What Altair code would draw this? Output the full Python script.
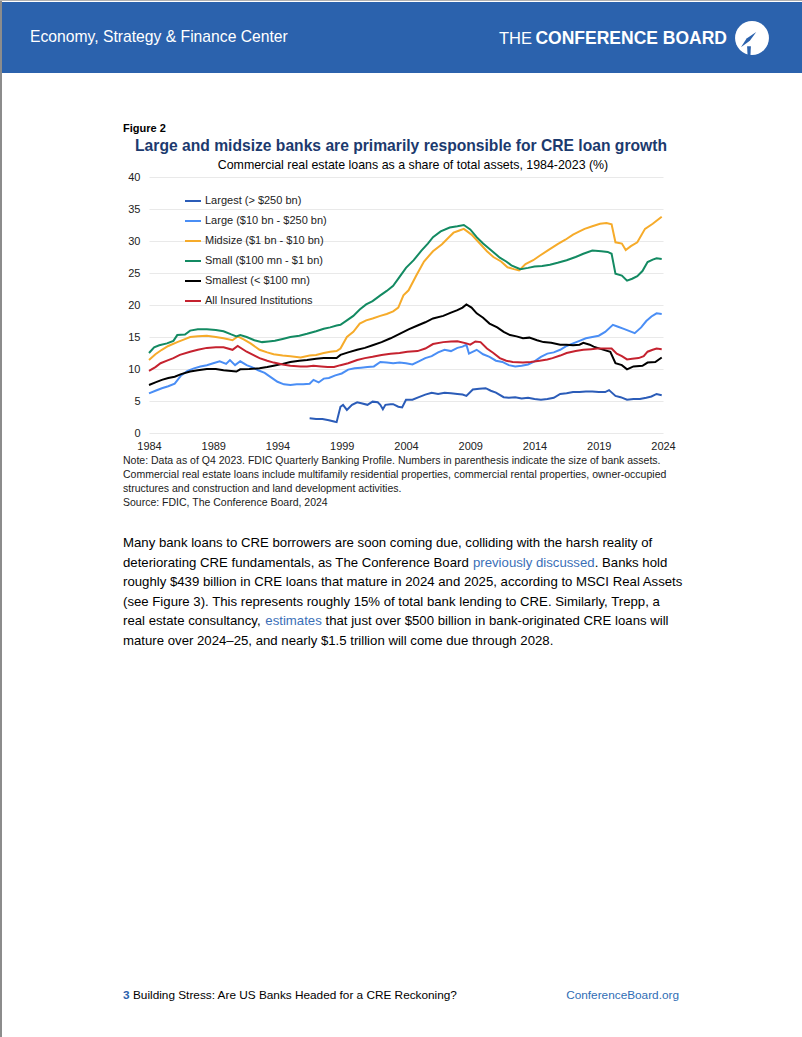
import altair as alt
import pandas as pd

# ---------------- data ----------------
series_names = [
    "Largest (> $250 bn)",
    "Large ($10 bn - $250 bn)",
    "Midsize ($1 bn - $10 bn)",
    "Small ($100 mn - $1 bn)",
    "Smallest (< $100 mn)",
    "All Insured Institutions",
]
series_colors = ["#2b5cb8", "#4a8ef5", "#f6ab2a", "#138a62", "#000000", "#c5222f"]

largest_years = [1996.5, 1997.0, 1997.5, 1998.0, 1998.4, 1998.6, 1998.9, 1999.1, 1999.4, 1999.8,
                 2000.2, 2000.6, 2001.0, 2001.4, 2001.8, 2002.0, 2002.2, 2002.4, 2002.8, 2003.0,
                 2003.4, 2003.7, 2004.0, 2004.5, 2005.0, 2005.5, 2006.0, 2006.5, 2007.0, 2007.5,
                 2008.0, 2008.4, 2008.7, 2009.2, 2009.7, 2010.2, 2010.6, 2011.0, 2011.6, 2012.0,
                 2012.5, 2013.0, 2013.5, 2014.0, 2014.5, 2015.0, 2015.5, 2016.0, 2016.5, 2017.0,
                 2017.5, 2018.0, 2018.5, 2019.0, 2019.5, 2019.8, 2020.3, 2020.7, 2021.2, 2021.7,
                 2022.2, 2022.7, 2023.1, 2023.5, 2023.9]
largest_vals = [2.3, 2.2, 2.2, 2.0, 1.8, 1.7, 4.1, 4.4, 3.6, 4.4,
                4.8, 4.6, 4.4, 4.9, 4.8, 4.4, 3.7, 4.4, 4.5, 4.5,
                4.1, 4.0, 5.2, 5.2, 5.6, 6.0, 6.3, 6.1, 6.3, 6.2,
                6.1, 6.0, 5.8, 6.8, 6.9, 7.0, 6.6, 6.3, 5.6, 5.5,
                5.6, 5.4, 5.5, 5.3, 5.2, 5.3, 5.5, 6.1, 6.2, 6.4,
                6.4, 6.5, 6.5, 6.4, 6.4, 6.7, 5.8, 5.6, 5.2, 5.3,
                5.3, 5.5, 5.7, 6.1, 5.9]

large_years = [1984.0, 1984.5, 1985.0, 1985.5, 1986.0, 1986.5, 1987.0, 1987.5, 1988.0, 1988.5,
               1989.0, 1989.5, 1990.0, 1990.3, 1990.7, 1991.1, 1991.6, 1992.0, 1992.5, 1993.0,
               1993.5, 1994.0, 1994.5, 1995.0, 1995.5, 1996.0, 1996.5, 1996.8, 1997.2, 1997.6,
               1998.0, 1998.5, 1999.0, 1999.5, 2000.0, 2000.5, 2001.0, 2001.5, 2002.0, 2002.5,
               2003.0, 2003.5, 2004.0, 2004.5, 2005.0, 2005.5, 2006.0, 2006.5, 2007.0, 2007.5,
               2008.0, 2008.4, 2008.7, 2008.9, 2009.5, 2010.0, 2010.5, 2011.0, 2011.5, 2012.0,
               2012.5, 2013.0, 2013.5, 2014.0, 2014.5, 2015.0, 2015.5, 2016.0, 2016.5, 2017.0,
               2017.5, 2018.0, 2018.5, 2019.0, 2019.5, 2020.1, 2020.5, 2020.9, 2021.3, 2021.8,
               2022.3, 2022.7, 2023.1, 2023.5, 2023.9]
large_vals = [6.2, 6.6, 7.0, 7.3, 7.7, 9.0, 9.7, 10.1, 10.4, 10.6,
              10.9, 11.2, 10.8, 11.4, 10.6, 11.2, 10.6, 10.3, 9.8, 9.4,
              8.7, 8.0, 7.6, 7.5, 7.6, 7.6, 7.7, 8.3, 7.9, 8.5,
              8.6, 9.0, 9.3, 9.9, 10.1, 10.2, 10.3, 10.4, 11.1, 11.0,
              10.9, 11.0, 10.9, 10.7, 11.2, 11.7, 12.0, 12.6, 13.0, 12.8,
              13.3, 13.5, 13.8, 12.4, 13.0, 12.3, 11.9, 11.3, 11.1, 10.6,
              10.4, 10.5, 10.7, 11.2, 11.9, 12.4, 12.6, 13.0, 13.6, 14.0,
              14.4, 14.8, 15.0, 15.2, 15.8, 16.9, 16.6, 16.3, 16.0, 15.6,
              16.5, 17.5, 18.2, 18.7, 18.6]

midsize_years = [1984.0, 1984.5, 1985.0, 1985.5, 1986.2, 1986.7, 1987.2, 1987.8, 1988.5, 1989.2,
                 1989.8, 1990.5, 1990.9, 1991.4, 1991.9, 1992.6, 1993.2, 1993.7, 1994.4, 1995.0,
                 1995.8, 1996.5, 1997.0, 1997.6, 1998.1, 1998.6, 1998.9, 1999.4, 1999.9, 2000.4,
                 2000.9, 2001.4, 2002.0, 2002.5, 2003.0, 2003.4, 2003.8, 2004.2, 2004.8, 2005.4,
                 2006.1, 2006.8, 2007.3, 2007.7, 2008.1, 2008.5, 2009.1, 2009.8, 2010.3, 2010.8,
                 2011.4, 2011.9, 2012.4, 2012.8, 2013.3, 2013.9, 2014.4, 2015.1, 2015.8, 2016.4,
                 2017.0, 2017.5, 2017.9, 2018.5, 2019.1, 2019.6, 2020.0, 2020.3, 2020.8, 2021.1,
                 2021.5, 2022.0, 2022.6, 2023.2, 2023.9]
midsize_vals = [11.4, 12.3, 13.0, 13.6, 14.2, 14.6, 15.0, 15.1, 15.2, 15.0,
                14.8, 14.5, 15.1, 14.6, 14.0, 13.0, 12.6, 12.3, 12.1, 12.0,
                11.8, 12.1, 12.2, 12.5, 12.7, 12.8, 13.2, 15.0, 15.8, 17.1,
                17.6, 17.9, 18.3, 18.6, 19.0, 19.6, 21.5, 22.3, 24.6, 26.8,
                28.4, 29.5, 30.5, 31.3, 31.6, 31.9, 31.0, 29.5, 28.4, 27.5,
                26.8, 25.9, 25.6, 25.4, 26.4, 27.0, 27.7, 28.6, 29.5, 30.2,
                31.0, 31.5, 31.9, 32.3, 32.7, 32.8, 32.6, 29.8, 29.6, 28.6,
                29.2, 29.8, 31.9, 32.7, 33.8]

small_years = [1984.0, 1984.4, 1984.8, 1985.4, 1985.9, 1986.2, 1986.8, 1987.2, 1987.8, 1988.5,
               1989.2, 1989.8, 1990.4, 1990.8, 1991.1, 1991.6, 1992.2, 1992.8, 1993.3, 1993.8,
               1994.4, 1995.0, 1995.7, 1996.3, 1997.0, 1997.6, 1998.1, 1998.6, 1998.9, 1999.4,
               1999.9, 2000.4, 2000.9, 2001.4, 2002.0, 2002.5, 2003.0, 2003.5, 2004.0, 2004.6,
               2005.2, 2005.7, 2006.1, 2006.7, 2007.4, 2008.0, 2008.5, 2009.0, 2009.5, 2010.0,
               2010.6, 2011.3, 2011.8, 2012.2, 2012.9, 2013.5, 2014.0, 2014.6, 2015.2, 2015.8,
               2016.5, 2017.2, 2017.8, 2018.5, 2019.2, 2019.7, 2020.0, 2020.3, 2020.8, 2021.2,
               2021.6, 2022.0, 2022.4, 2022.8, 2023.2, 2023.5, 2023.9]
small_vals = [12.5, 13.4, 13.7, 14.0, 14.4, 15.3, 15.4, 16.0, 16.2, 16.2,
              16.1, 15.9, 15.4, 15.1, 15.3, 15.0, 14.5, 14.2, 14.3, 14.4,
              14.7, 15.0, 15.2, 15.5, 15.9, 16.3, 16.5, 16.8, 16.9, 17.6,
              18.3, 19.3, 20.1, 20.6, 21.5, 22.2, 23.0, 24.4, 25.8, 27.0,
              28.5, 29.6, 30.6, 31.5, 32.1, 32.3, 32.5, 31.8, 30.6, 29.6,
              28.6, 27.4, 26.8, 26.2, 25.6, 25.8, 26.0, 26.1, 26.3, 26.6,
              27.0, 27.5, 28.0, 28.5, 28.4, 28.3, 28.0, 24.9, 24.6, 23.8,
              24.1, 24.5, 25.3, 26.7, 27.1, 27.3, 27.2]

smallest_years = [1984.0, 1984.5, 1985.0, 1985.5, 1986.0, 1986.5, 1987.2, 1987.8, 1988.5, 1989.2,
                  1989.8, 1990.4, 1990.8, 1991.1, 1991.8, 1992.6, 1993.2, 1993.7, 1994.4, 1995.0,
                  1995.7, 1996.3, 1997.0, 1997.6, 1998.1, 1998.6, 1998.9, 1999.5, 2000.2, 2000.8,
                  2001.4, 2002.1, 2002.8, 2003.5, 2004.2, 2004.9, 2005.5, 2006.1, 2006.9, 2007.5,
                  2008.0, 2008.4, 2008.7, 2009.1, 2009.5, 2010.0, 2010.5, 2011.1, 2011.6, 2012.1,
                  2012.6, 2013.1, 2013.6, 2014.2, 2014.7, 2015.3, 2016.0, 2016.5, 2017.0, 2017.5,
                  2017.8, 2018.3, 2018.6, 2019.2, 2019.9, 2020.3, 2020.8, 2021.2, 2021.7, 2022.4,
                  2022.8, 2023.4, 2023.9]
smallest_vals = [7.5, 7.9, 8.3, 8.6, 8.8, 9.2, 9.6, 9.8, 10.0, 10.0,
                 9.8, 9.7, 9.6, 9.95, 10.0, 10.1, 10.3, 10.5, 10.8, 11.1,
                 11.3, 11.4, 11.6, 11.7, 11.7, 11.7, 12.2, 12.6, 13.0, 13.3,
                 13.7, 14.2, 14.8, 15.5, 16.2, 16.8, 17.3, 17.9, 18.3, 18.8,
                 19.2, 19.6, 20.1, 19.6, 18.7, 18.0, 17.1, 16.5, 15.8, 15.3,
                 15.1, 14.8, 14.9, 14.5, 14.2, 14.1, 13.8, 13.8, 13.7, 13.8,
                 14.1, 13.8, 13.5, 13.1, 12.7, 10.9, 10.6, 9.95, 10.4, 10.5,
                 11.0, 11.1, 11.8]

all_years = [1984.0, 1984.5, 1984.9, 1985.4, 1985.9, 1986.4, 1987.2, 1987.8, 1988.5, 1989.2,
             1989.8, 1990.5, 1990.9, 1991.6, 1992.1, 1992.6, 1993.2, 1993.7, 1994.4, 1995.0,
             1995.8, 1996.3, 1996.8, 1997.4, 1997.9, 1998.4, 1998.9, 1999.5, 2000.2, 2000.8,
             2001.4, 2002.1, 2002.8, 2003.5, 2004.1, 2004.9, 2005.5, 2006.1, 2006.9, 2007.5,
             2008.0, 2008.7, 2009.0, 2009.4, 2009.8, 2010.3, 2010.8, 2011.3, 2011.8, 2012.3,
             2013.1, 2013.7, 2014.4, 2015.0, 2015.4, 2016.0, 2016.5, 2017.2, 2017.8, 2018.4,
             2018.9, 2019.7, 2020.0, 2020.4, 2020.8, 2021.2, 2021.6, 2022.1, 2022.5, 2022.8,
             2023.2, 2023.5, 2023.9]
all_vals = [9.7, 10.3, 10.9, 11.3, 11.7, 12.2, 12.7, 13.0, 13.3, 13.4,
            13.4, 13.0, 13.6, 12.7, 12.2, 11.7, 11.3, 11.0, 10.7, 10.5,
            10.4, 10.4, 10.5, 10.4, 10.3, 10.3, 10.6, 10.9, 11.4, 11.7,
            11.9, 12.2, 12.4, 12.5, 12.7, 12.8, 13.2, 13.9, 14.2, 14.3,
            14.35, 14.0, 13.8, 14.3, 14.2, 13.2, 12.5, 11.7, 11.3, 11.1,
            11.0, 11.1, 11.3, 11.5, 11.7, 12.1, 12.5, 12.8, 13.0, 13.1,
            13.2, 13.2, 13.2, 12.4, 12.0, 11.5, 11.6, 11.7, 12.0, 12.7,
            13.0, 13.2, 13.1]

y_ticks = [0, 5, 10, 15, 20, 25, 30, 35, 40]
x_ticks = [1984, 1989, 1994, 1999, 2004, 2009, 2014, 2019, 2024]

# ---------------- long table ----------------
all_series = [
    (largest_years, largest_vals),
    (large_years, large_vals),
    (midsize_years, midsize_vals),
    (small_years, small_vals),
    (smallest_years, smallest_vals),
    (all_years, all_vals),
]
rows = []
for order, (name, (ys, vs)) in enumerate(zip(series_names, all_series)):
    assert len(ys) == len(vs), (name, len(ys), len(vs))
    for yr, v in zip(ys, vs):
        rows.append({"series": name, "year": yr, "value": v, "ord": order})
df = pd.DataFrame(rows)

# ---------------- page geometry ----------------
W_PAGE, H_PAGE = 802, 1037
PX0, PX1 = 149, 663      # plot area left/right on the page
PY0, PY1 = 177, 433      # plot area top/bottom on the page
FONT = "Liberation Sans"

# Arial/Helvetica advance widths (1/1000 em), used only to place inline link words
AW = {' ': 278, ',': 278, '.': 278, '-': 333, '$': 556, '(': 333, ')': 333, '%': 889, '–': 556}
for c in "0123456789":
    AW[c] = 556
AW.update(dict(zip("ABCDEFGHIJKLMNOPQRSTUVWXYZ",
                   [667, 667, 722, 722, 667, 611, 778, 722, 278, 500, 667, 556, 833, 722, 778, 667,
                    778, 722, 667, 611, 722, 667, 944, 667, 667, 611])))
AW.update(dict(zip("abcdefghijklmnopqrstuvwxyz",
                   [556, 556, 500, 556, 556, 278, 556, 556, 222, 222, 500, 222, 833, 556, 556, 556,
                    556, 333, 500, 278, 556, 500, 722, 500, 500, 500])))


def tw(s, size):
    return sum(AW.get(c, 556) for c in s) * size / 1000.0


def T(text, x, y, size=11, color="#000000", weight="normal", align="left", font=FONT):
    return alt.Chart(pd.DataFrame({"t": [text]})).mark_text(
        align=align, baseline="middle", font=font, fontSize=size, color=color, fontWeight=weight
    ).encode(text="t:N", x=alt.value(x - PX0), y=alt.value(y - PY0))


def R(x1, y1, x2, y2, color):
    return alt.Chart(pd.DataFrame({"a": [0]})).mark_rect(color=color).encode(
        x=alt.value(x1 - PX0), x2=alt.value(x2 - PX0), y=alt.value(y1 - PY0), y2=alt.value(y2 - PY0)
    )


layers = []

# header band
layers.append(R(0, 2, W_PAGE, 73, "#2b62ad"))
layers.append(R(0, 0, 2, H_PAGE, "#8c8c8c"))
layers.append(R(0, 0, W_PAGE, 1, "#b0b0b0"))
layers.append(T("Economy, Strategy & Finance Center", 30, 37, size=15.7, color="#ffffff"))
layers.append(T("CONFERENCE BOARD", 727, 39, size=17.5, color="#ffffff", weight="bold", align="right"))
layers.append(T("THE", 532, 39, size=16.5, color="#ffffff", align="right"))
# logo emblem
logo = pd.DataFrame({"a": [0]})
layers.append(alt.Chart(logo).mark_point(filled=True, color="#ffffff", opacity=1, size=1150).encode(
    x=alt.value(752 - PX0), y=alt.value(38 - PY0)))
layers.append(alt.Chart(logo).mark_point(
    filled=True, color="#2b62ad", opacity=1, size=260,
    shape="M-1,0.9 L-0.3,-0.2 L0.9,-1 L0.1,0.1 Z").encode(
    x=alt.value(749 - PX0), y=alt.value(40 - PY0)))
layers.append(alt.Chart(logo).mark_point(
    filled=True, color="#2b62ad", opacity=1, size=90,
    shape="M-0.4,-1 L0.4,-1 L0.3,1 L-0.3,1 Z").encode(
    x=alt.value(749 - PX0), y=alt.value(51 - PY0)))

# figure label, title, subtitle
layers.append(T("Figure 2", 123, 129, size=11, weight="bold"))
layers.append(T("Large and midsize banks are primarily responsible for CRE loan growth", 401, 146,
                size=15.65, color="#1c3a6e", weight="bold", align="center"))
layers.append(T("Commercial real estate loans as a share of total assets, 1984-2023 (%)", 413, 165,
                size=12.4, color="#000000", align="center"))

# the chart lines
lines = alt.Chart(df).mark_line(strokeWidth=2, interpolate="linear").encode(
    x=alt.X("year:Q", scale=alt.Scale(domain=[1984, 2024], nice=False, zero=False),
            axis=alt.Axis(values=x_ticks, format="d", title=None, grid=False, domain=False,
                          ticks=False, labelPadding=7, labelFontSize=11, labelFont=FONT,
                          labelColor="#222222", labelFlush=False)),
    y=alt.Y("value:Q", scale=alt.Scale(domain=[0, 40], nice=False),
            axis=alt.Axis(values=y_ticks, title=None, grid=True, gridColor="#e9e9e9", domain=False,
                          ticks=False, labelPadding=9, labelFontSize=11, labelFont=FONT,
                          labelColor="#222222")),
    color=alt.Color("series:N", scale=alt.Scale(domain=series_names, range=series_colors),
                    legend=alt.Legend(orient="none", legendX=184 - PX0, legendY=192 - PY0, title=None,
                                      symbolType="stroke", symbolSize=256, symbolStrokeWidth=2,
                                      labelFont=FONT, labelFontSize=11, labelColor="#222222",
                                      labelOffset=3, rowPadding=6, padding=0, labelLimit=400)),
    detail="series:N",
    order="year:Q",
)
layers.append(lines)

# notes
NS = 10.5
notes = [
    "Note: Data as of Q4 2023. FDIC Quarterly Banking Profile. Numbers in parenthesis indicate the size of bank assets.",
    "Commercial real estate loans include multifamily residential properties, commercial rental properties, owner-occupied",
    "structures and construction and land development activities.",
    "Source: FDIC, The Conference Board, 2024",
]
for i, s in enumerate(notes):
    layers.append(T(s, 123, 461 + 14 * i, size=NS, color="#1a1a1a"))

# body text
BS = 13.2
LINK = "#3a6fb7"
body_y = [543, 562.5, 582, 601.5, 621, 640.5]
layers.append(T("Many bank loans to CRE borrowers are soon coming due, colliding with the harsh reality of",
                123, body_y[0], size=BS))
p1 = "deteriorating CRE fundamentals, as The Conference Board "
p2 = "previously discussed"
p3 = ". Banks hold"
layers.append(T(p1.strip(), 123, body_y[1], size=BS))
layers.append(T(p2, 123 + tw(p1, BS), body_y[1], size=BS, color=LINK))
layers.append(T(p3, 123 + tw(p1 + p2, BS), body_y[1], size=BS))
layers.append(T("roughly $439 billion in CRE loans that mature in 2024 and 2025, according to MSCI Real Assets",
                123, body_y[2], size=BS))
layers.append(T("(see Figure 3). This represents roughly 15% of total bank lending to CRE. Similarly, Trepp, a",
                123, body_y[3], size=BS))
q1 = "real estate consultancy, "
q2 = "estimates "
q3 = "that just over $500 billion in bank-originated CRE loans will"
layers.append(T(q1.strip(), 123, body_y[4], size=BS))
layers.append(T(q2.strip(), 123 + tw(q1, BS), body_y[4], size=BS, color=LINK))
layers.append(T(q3, 123 + tw(q1 + q2, BS), body_y[4], size=BS))
layers.append(T("mature over 2024–25, and nearly $1.5 trillion will come due through 2028.",
                123, body_y[5], size=BS))

# footer
FS = 11.8
layers.append(T("3", 123, 995, size=FS, color="#2b62ad", weight="bold"))
layers.append(T("Building Stress: Are US Banks Headed for a CRE Reckoning?", 133, 995, size=FS))
layers.append(T("ConferenceBoard.org", 679, 995, size=FS, color="#2f6db5", align="right"))

chart = alt.layer(*layers).properties(
    width=PX1 - PX0,
    height=PY1 - PY0,
    autosize=alt.AutoSizeParams(type="none"),
    padding={"left": PX0, "top": PY0, "right": W_PAGE - PX1, "bottom": H_PAGE - PY1},
    background="#ffffff",
).configure_view(stroke=None)

chart.save("out.html", embed_options={"renderer": "svg", "actions": False})
